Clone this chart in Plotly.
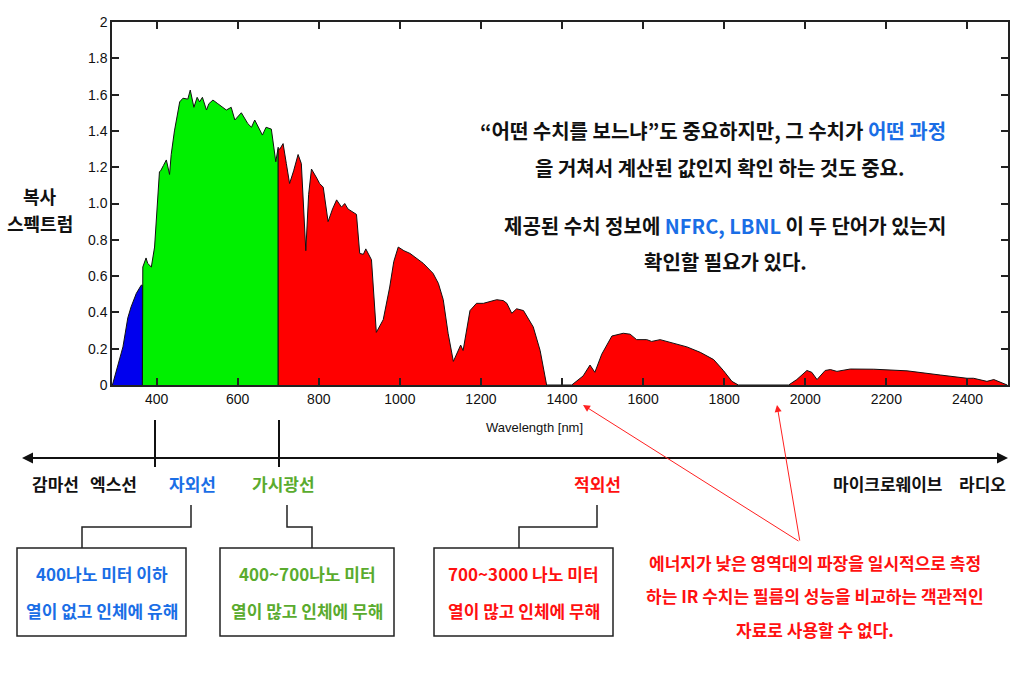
import plotly.graph_objects as go

# ---------------- data ----------------
wl_uv = [291, 304, 317, 329, 337, 350, 362, 365]
val_uv = [0, 0.10, 0.21, 0.37, 0.43, 0.505, 0.55, 0.55]

wl_vis = [365, 366, 374, 378, 387, 395, 407, 410, 417, 424, 432, 436, 444, 457, 465,
          477, 483, 490, 492, 500, 506, 513, 523, 529, 539, 551, 572, 584, 593, 609,
          625, 634, 642, 661, 670, 683, 694, 700]
val_vis = [0.55, 0.65, 0.70, 0.67, 0.65, 0.76, 1.175, 1.18, 1.21, 1.24, 1.16, 1.27, 1.40, 1.56, 1.58,
           1.575, 1.625, 1.54, 1.53, 1.585, 1.56, 1.585, 1.515, 1.55, 1.57, 1.55, 1.515, 1.53, 1.46, 1.50,
           1.44, 1.42, 1.46, 1.377, 1.42, 1.41, 1.23, 1.31]

wl_ir = [700, 704, 712, 720, 728, 738, 749, 757, 762, 768, 775, 782, 795, 802, 811, 823, 834,
         844, 856, 864, 872, 893, 901, 910, 916, 922, 930, 942, 959, 975, 985, 996, 1010,
         1025, 1040, 1058, 1082, 1095, 1107, 1119, 1132, 1144, 1150, 1156, 1173, 1189, 1206,
         1239, 1255, 1264, 1276, 1288, 1305, 1329, 1346, 1362, 1424, 1452, 1469, 1481, 1498,
         1523, 1551, 1568, 1584, 1609, 1621, 1642, 1675, 1708, 1741, 1774, 1798, 1819, 1835,
         1959, 1979, 2004, 2016, 2029, 2049, 2062, 2078, 2111, 2169, 2251, 2333, 2399, 2415,
         2448, 2465, 2498]
val_ir = [1.30, 1.30, 1.33, 1.22, 1.11, 1.18, 1.27, 1.22, 1.00, 0.74, 1.05, 1.19, 1.14, 1.11, 1.09, 0.90, 0.97,
          1.02, 0.98, 1.00, 0.97, 0.94, 0.725, 0.72, 0.75, 0.72, 0.69, 0.29, 0.36, 0.54, 0.68, 0.76, 0.74,
          0.725, 0.70, 0.67, 0.615, 0.56, 0.47, 0.285, 0.13, 0.19, 0.22, 0.19, 0.41, 0.45, 0.45,
          0.47, 0.465, 0.45, 0.395, 0.42, 0.41, 0.32, 0.19, 0.0, 0.0, 0.05, 0.11, 0.07, 0.17,
          0.27, 0.285, 0.28, 0.25, 0.25, 0.24, 0.25, 0.23, 0.21, 0.18, 0.14, 0.08, 0.02, 0.0,
          0.0, 0.03, 0.08, 0.07, 0.03, 0.08, 0.085, 0.075, 0.088, 0.087, 0.078, 0.055, 0.037, 0.037,
          0.02, 0.03, 0.0]

x_ticks = [400, 600, 800, 1000, 1200, 1400, 1600, 1800, 2000, 2200, 2400]
y_ticks = [0, 0.2, 0.4, 0.6, 0.8, 1.0, 1.2, 1.4, 1.6, 1.8, 2]
y_ticktext = ["0", "0.2", "0.4", "0.6", "0.8", "1.0", "1.2", "1.4", "1.6", "1.8", "2"]

KR = "Noto Sans CJK KR"
BLUE_T = "#1a6ee6"
GREEN_T = "#5aab2e"
RED_T = "#ff1010"

W, H = 1024, 683
L, R, T, B = 112, 1008, 22, 385


def X(px):
    return (px - L) / (R - L)


def Y(py):
    return (B - py) / (B - T)


def txt(cx, cy, t, size, color, fam=KR, bold=True):
    return dict(x=X(cx), y=Y(cy), xref="paper", yref="paper", text=t, showarrow=False,
                xanchor="center", yanchor="middle",
                font=dict(family=fam, size=size, color=color, weight="bold" if bold else "normal"))


fig = go.Figure()
for wl, val, col in [(wl_uv, val_uv, "#0000ee"), (wl_vis, val_vis, "#00f000"), (wl_ir, val_ir, "#ff0000")]:
    fig.add_trace(go.Scatter(
        x=[wl[0]] + wl + [wl[-1]], y=[0] + val + [0],
        fill="toself", fillcolor=col, mode="lines",
        line=dict(color="#111", width=1), hoverinfo="skip", showlegend=False))

fig.update_xaxes(range=[290, 2500], tickvals=x_ticks, ticks="inside", ticklen=7, tickwidth=1.5,
                 tickcolor="#222", showline=True, linecolor="#222", linewidth=1.5, mirror="ticks",
                 showgrid=False, zeroline=False,
                 tickfont=dict(family="Liberation Sans, Arial", size=14, color="#111"))
fig.update_yaxes(range=[0, 2], tickvals=y_ticks, ticktext=y_ticktext, ticks="inside", ticklen=7,
                 tickwidth=1.5, tickcolor="#222", showline=True, linecolor="#222", linewidth=1.5,
                 mirror="ticks", showgrid=False, zeroline=False,
                 tickfont=dict(family="Liberation Sans, Arial", size=14, color="#111"))

ann = []
shapes = []

# axis title & y label
ann.append(txt(534, 427, "Wavelength [nm]", 13, "#111", fam="Liberation Sans, Arial", bold=False))
ann.append(txt(40, 196, "복사", 18, "#111"))
ann.append(txt(40, 223, "스펙트럼", 18, "#111"))

# in-chart text
chart_lines = [
    (713, 130, "“어떤 수치를 보느냐”도 중요하지만, 그 수치가 <span style='color:%s'>어떤 과정</span>" % BLUE_T),
    (719, 167, "을 거쳐서 계산된 값인지 확인 하는 것도 중요."),
    (725, 225, "제공된 수치 정보에 <span style='color:%s'>NFRC, LBNL</span> 이 두 단어가 있는지" % BLUE_T),
    (725, 261, "확인할 필요가 있다."),
]
for cx, cy, t in chart_lines:
    ann.append(txt(cx, cy, t, 20, "#111"))

# spectrum double arrow
shapes.append(dict(type="line", xref="paper", yref="paper", x0=X(30), x1=X(1000), y0=Y(458), y1=Y(458),
                   line=dict(color="#111", width=2)))
for tip, off in [(22, 20), (1008, -20)]:
    ann.append(dict(x=X(tip), y=Y(458), xref="paper", yref="paper", text="", showarrow=True,
                    ax=off, ay=0, arrowhead=2, arrowsize=1.1, arrowwidth=2, arrowcolor="#111"))

# vertical boundary marks
for px in [155, 279]:
    shapes.append(dict(type="line", xref="paper", yref="paper", x0=X(px), x1=X(px), y0=Y(420), y1=Y(467),
                       line=dict(color="#111", width=2)))

# band labels
labels = [(55, "감마선", "#111"), (113, "엑스선", "#111"), (192, "자외선", BLUE_T), (283, "가시광선", GREEN_T),
          (597, "적외선", RED_T), (887, "마이크로웨이브", "#111"), (982, "라디오", "#111")]
for cx, t, c in labels:
    ann.append(txt(cx, 483, t, 17, c))

# connectors
for xa, xb in [(191, 82), (287, 312), (597, 519)]:
    path = "M %f %f L %f %f L %f %f L %f %f" % (X(xa), Y(505), X(xa), Y(527), X(xb), Y(527), X(xb), Y(548))
    shapes.append(dict(type="path", xref="paper", yref="paper", path=path, line=dict(color="#222", width=1.5)))

# boxes
boxes = [(17, 186, "400나노 미터 이하", "열이 없고 인체에 유해", BLUE_T),
         (220, 394, "400~700나노 미터", "열이 많고 인체에 무해", GREEN_T),
         (434, 613, "700~3000 나노 미터", "열이 많고 인체에 무해", RED_T)]
for x0, x1, t1, t2, c in boxes:
    shapes.append(dict(type="rect", xref="paper", yref="paper", x0=X(x0), x1=X(x1), y0=Y(636), y1=Y(548),
                       line=dict(color="#222", width=1.5)))
    cx = (x0 + x1) / 2
    ann.append(txt(cx, 573, t1, 17, c))
    ann.append(txt(cx, 610, t2, 17, c))

# red note
red_lines = [(815, 562, "에너지가 낮은 영역대의 파장을 일시적으로 측정"),
             (815, 595, "하는 IR 수치는 필름의 성능을 비교하는 객관적인"),
             (815, 629, "자료로 사용할 수 없다.")]
for cx, cy, t in red_lines:
    ann.append(txt(cx, cy, t, 17, RED_T))

# red arrows from note to gaps
for tx, ty in [(583, 405), (777, 405)]:
    ann.append(dict(x=X(tx), y=Y(ty), xref="paper", yref="paper", text="", showarrow=True,
                    ax=800 - tx, ay=542 - ty, arrowhead=2, arrowsize=1.4, arrowwidth=1,
                    arrowcolor="#ff2020"))

fig.update_layout(width=W, height=H, margin=dict(l=L, r=W - R, t=T, b=H - B),
                  paper_bgcolor="white", plot_bgcolor="white",
                  annotations=ann, shapes=shapes, showlegend=False)

fig.write_html("out.html", config={"displayModeBar": False},
               post_script="document.body.style.margin='0';")
